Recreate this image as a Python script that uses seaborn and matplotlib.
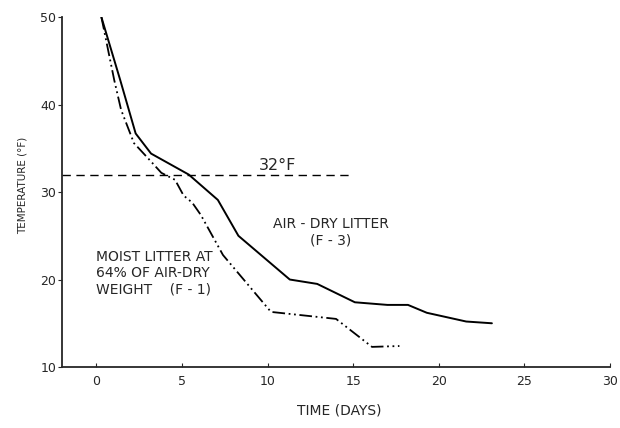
import matplotlib
matplotlib.use("Agg")
import matplotlib.pyplot as plt
import seaborn as sns
import pandas as pd

# Data
air_dry_days = [0.3, 1.4, 2.3, 3.2, 5.4, 7.1, 8.3, 11.3, 12.9, 15.1, 17.0, 18.2, 19.3, 21.6, 23.1]
air_dry_temp = [50.0, 42.8, 36.7, 34.4, 32.0, 29.1, 25.0, 20.0, 19.5, 17.4, 17.1, 17.1, 16.2, 15.2, 15.0]
moist_days = [0.3, 1.05, 1.45, 2.2, 3.1, 3.8, 4.6, 5.1, 5.6, 6.1, 7.4, 10.2, 14.0, 16.1, 17.7]
moist_temp = [50.0, 42.8, 39.4, 35.6, 33.7, 32.2, 31.4, 29.6, 28.8, 27.4, 22.8, 16.3, 15.5, 12.3, 12.4]
freezing_f = 32
freeze_line_x = [-2.0, 15.0]
x_ticks = [0, 5, 10, 15, 20, 25, 30]
y_ticks = [10, 20, 30, 40, 50]

df = pd.concat([
    pd.DataFrame({"days": air_dry_days, "temp": air_dry_temp, "series": "air"}),
    pd.DataFrame({"days": moist_days, "temp": moist_temp, "series": "moist"}),
])

sns.set_style("ticks")
plt.rcParams["font.family"] = ["DejaVu Sans"]

fig = plt.figure(figsize=(6.2, 4.28), dpi=100)
ax = fig.add_axes([0.1, 0.1425, 0.884, 0.8175])

sns.lineplot(data=df[df.series == "air"], x="days", y="temp", ax=ax,
             color="black", linewidth=1.4, sort=False, estimator=None)
sns.lineplot(data=df[df.series == "moist"], x="days", y="temp", ax=ax,
             color="black", linewidth=1.3, sort=False, estimator=None,
             linestyle=(0, (7, 2, 1, 2, 1, 2)))
ax.plot(freeze_line_x, [freezing_f, freezing_f], color="black", linewidth=1.0,
        linestyle=(0, (6, 4)))

ax.set_xlim(-2.0, 30)
ax.set_ylim(10, 50)
ax.set_xticks(x_ticks)
ax.set_yticks(y_ticks)
ax.tick_params(axis="x", direction="in", length=3, labelsize=9, pad=6)
ax.tick_params(axis="y", direction="out", length=3, labelsize=9, pad=1)
for s in ["top", "right"]:
    ax.spines[s].set_visible(False)
for s in ["left", "bottom"]:
    ax.spines[s].set_linewidth(1.3)

ax.set_xlabel("TIME (DAYS)", fontsize=10)
ax.xaxis.set_label_coords(0.505, -0.105)
ax.set_ylabel("TEMPERATURE (°F)", fontsize=7.5)
ax.yaxis.set_label_coords(-0.063, 0.52)

ax.text(10.6, 33.0, "32°F", fontsize=11.5, ha="center", va="center")
ax.text(13.7, 26.3, "AIR - DRY LITTER", fontsize=10, ha="center", va="center")
ax.text(13.7, 24.5, "(F - 3)", fontsize=10, ha="center", va="center")
ax.text(0.0, 22.6, "MOIST LITTER AT", fontsize=10, ha="left", va="center")
ax.text(0.0, 20.7, "64% OF AIR-DRY", fontsize=10, ha="left", va="center")
ax.text(0.0, 18.9, "WEIGHT    (F - 1)", fontsize=10, ha="left", va="center")

fig.savefig("out.png", dpi=100)
